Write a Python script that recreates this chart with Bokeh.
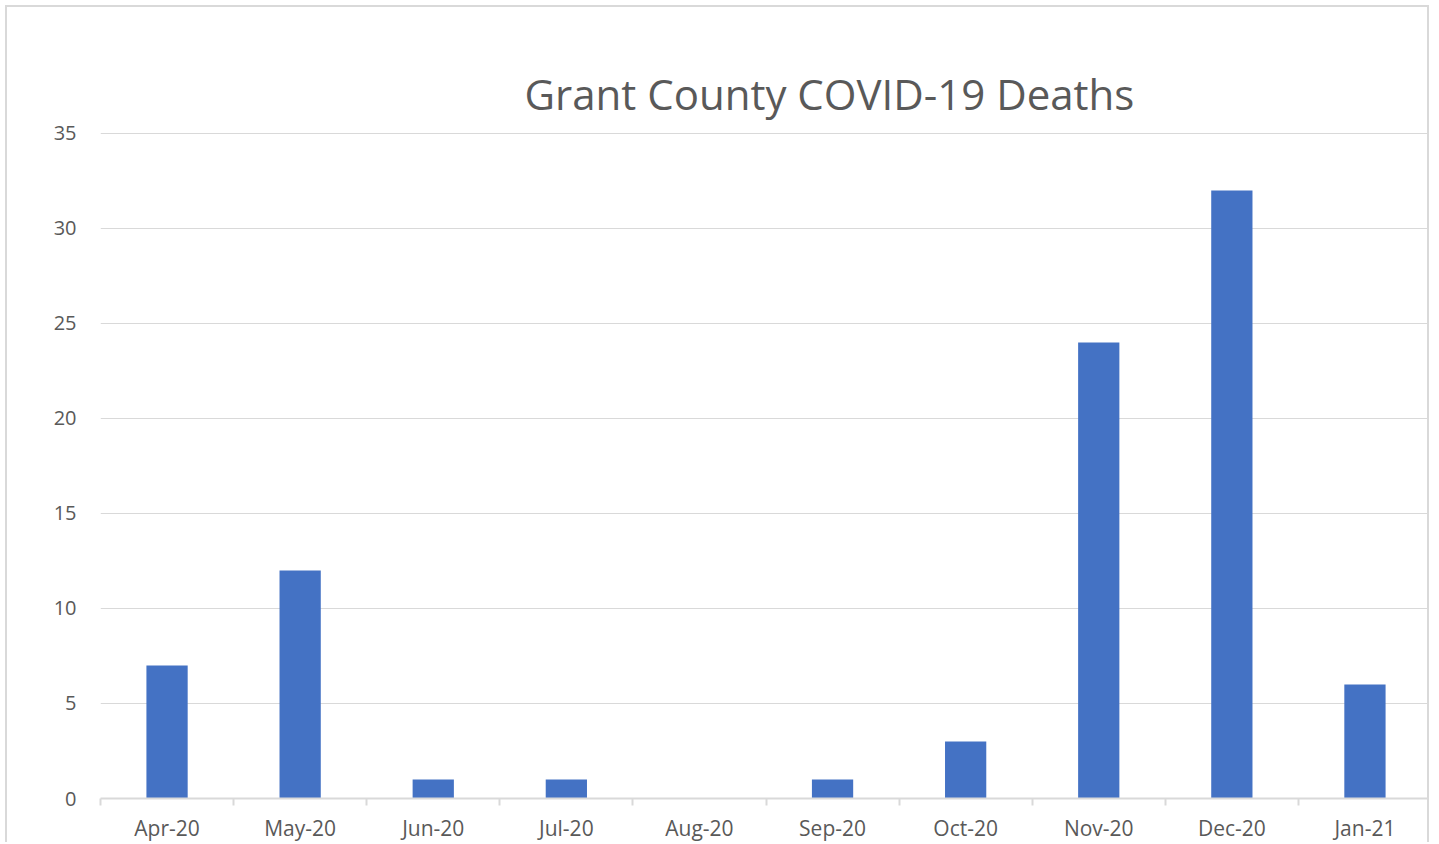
from bokeh.plotting import figure
from bokeh.models import (ColumnDataSource, Range1d, LinearAxis, FixedTicker, Title)
from bokeh.embed import file_html
from bokeh.resources import INLINE

months = ["Apr-20", "May-20", "Jun-20", "Jul-20", "Aug-20", "Sep-20",
          "Oct-20", "Nov-20", "Dec-20", "Jan-21"]
deaths = [7, 12, 1, 1, 0, 1, 3, 24, 32, 6]
y_ticks = [0, 5, 10, 15, 20, 25, 30, 35]
title_text = "Grant County COVID-19 Deaths"

FONT = "Open Sans"
GREY_TXT = "#595959"
GRID = "#d9d9d9"

n = len(months)
idx = list(range(n))
edges = [i - 0.5 for i in range(n + 1)]

p = figure(x_range=Range1d(-0.5, n - 0.5), y_range=Range1d(0, 35.1),
           width=1424, height=837, title_location=None,
           output_backend="svg", toolbar_location=None,
           x_axis_location=None, y_axis_location=None,
           min_border_left=93, min_border_right=0, min_border_top=124,
           min_border_bottom=46)
p.outline_line_color = None
p.background_fill_color = "white"
p.border_fill_color = "white"
p.styles = {"border-left": "2px solid #d9d9d9", "border-top": "2px solid #d9d9d9",
            "border-right": "2px solid #d9d9d9",
            "margin-left": "5px", "margin-top": "5px"}

src = ColumnDataSource(dict(x=idx, month=months, deaths=deaths))
p.vbar(x="x", top="deaths", width=0.31, source=src,
       fill_color="#4472C4", line_color=None)

# title, then an invisible spacer that sits between it and the plot area
title = Title(text=title_text, align="left", offset=424, standoff=20,
              text_font=FONT, text_font_size="42px", text_font_style="normal",
              text_color=GREY_TXT)
p.add_layout(title, "above")
spacer = Title(text=".", text_font_size="1px", standoff=38, text_alpha=0)
p.add_layout(spacer, "above")

# y axis
yax = LinearAxis(ticker=FixedTicker(ticks=y_ticks, minor_ticks=[]))
yax.axis_line_color = None
yax.major_tick_line_color = None
yax.minor_tick_line_color = None
yax.major_tick_out = 0
yax.major_tick_in = 0
yax.major_label_standoff = 24
yax.major_label_text_font = FONT
yax.major_label_text_font_size = "20px"
yax.major_label_text_color = GREY_TXT
p.add_layout(yax, "left")

p.ygrid.ticker = FixedTicker(ticks=y_ticks, minor_ticks=[])
p.ygrid.grid_line_color = GRID
p.ygrid.grid_line_width = 1
p.xgrid.grid_line_color = None

# x axis: labels at category centres, tick marks at category boundaries
xax = LinearAxis(ticker=FixedTicker(ticks=idx, minor_ticks=edges))
xax.major_label_overrides = {i: m for i, m in zip(idx, months)}
xax.axis_line_color = GRID
xax.axis_line_width = 2
xax.major_tick_line_color = None
xax.major_tick_out = 0
xax.major_tick_in = 0
xax.minor_tick_line_color = GRID
xax.minor_tick_line_width = 2
xax.minor_tick_out = 7
xax.minor_tick_in = 0
xax.major_label_standoff = 8
xax.major_label_text_font = FONT
xax.major_label_text_font_size = "21px"
xax.major_label_text_color = GREY_TXT
p.add_layout(xax, "below")

open("out.html", "w").write(file_html(p, INLINE))
